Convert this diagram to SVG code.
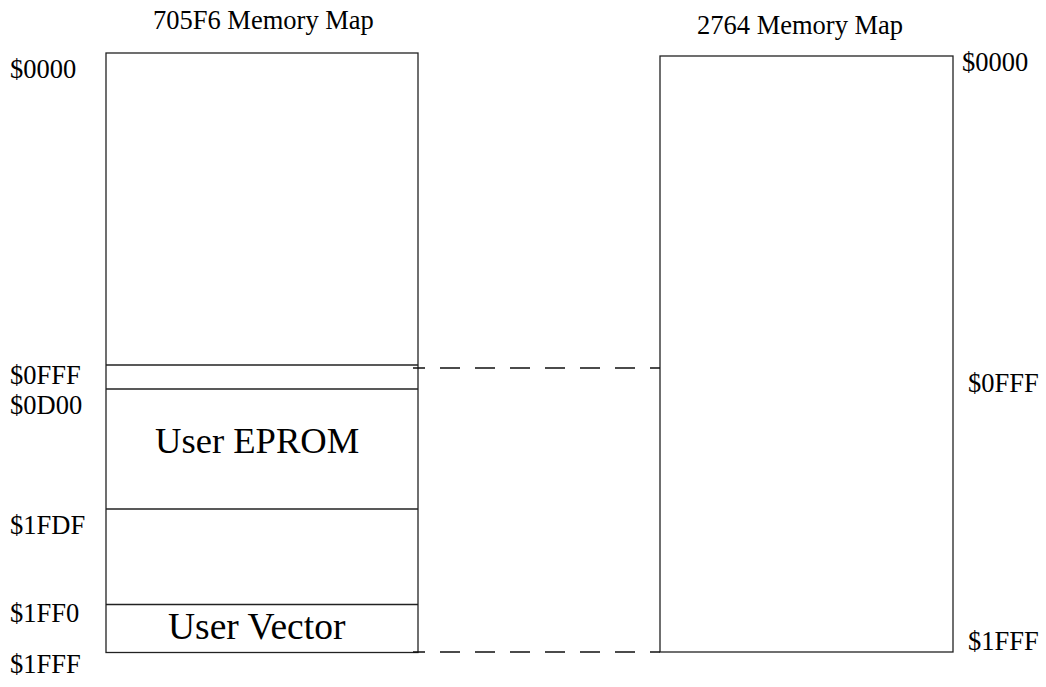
<svg xmlns="http://www.w3.org/2000/svg" width="1046" height="687" viewBox="0 0 1046 687">
<style>
.box{fill:#fff;stroke:#222;stroke-width:1.3}
.ln{stroke:#222;stroke-width:1.3;fill:none}
.dash{stroke:#111;stroke-width:1.3;stroke-dasharray:20 15;stroke-dashoffset:8;fill:none}
.t{font-family:"Liberation Serif","Times New Roman",serif;font-size:26.5px;fill:#000}
.big{font-family:"Liberation Serif","Times New Roman",serif;font-size:37.5px;fill:#000}
</style>
<rect width="1046" height="687" fill="#fff"/>
<text class="t" x="153" y="29">705F6 Memory Map</text>
<text class="t" x="697" y="34">2764 Memory Map</text>
<g id="map705">
<rect class="box" x="106" y="53" width="312" height="599.5"/>
<line class="ln" x1="106" y1="365" x2="418" y2="365"/>
<line class="ln" x1="106" y1="389" x2="418" y2="389"/>
<line class="ln" x1="106" y1="509" x2="418" y2="509"/>
<line class="ln" x1="106" y1="604.5" x2="418" y2="604.5"/>
<text class="big" x="155" y="453" style="font-size:36.6px">User EPROM</text>
<text class="big" x="168" y="639">User Vector</text>
</g>
<g id="labels705">
<text class="t" x="10" y="78">$0000</text>
<text class="t" x="10" y="384">$0FFF</text>
<text class="t" x="10" y="414">$0D00</text>
<text class="t" x="10" y="534">$1FDF</text>
<text class="t" x="10" y="622">$1FF0</text>
<text class="t" x="10" y="673">$1FFF</text>
</g>
<g id="map2764">
<rect class="box" x="660" y="56" width="293" height="596"/>
<text class="t" x="962" y="71">$0000</text>
<text class="t" x="968" y="392">$0FFF</text>
<text class="t" x="968" y="650">$1FFF</text>
</g>
<g id="connectors">
<line class="dash" x1="413" y1="368" x2="660" y2="368"/>
<line class="dash" x1="413" y1="652" x2="660" y2="652"/>
</g>
</svg>
